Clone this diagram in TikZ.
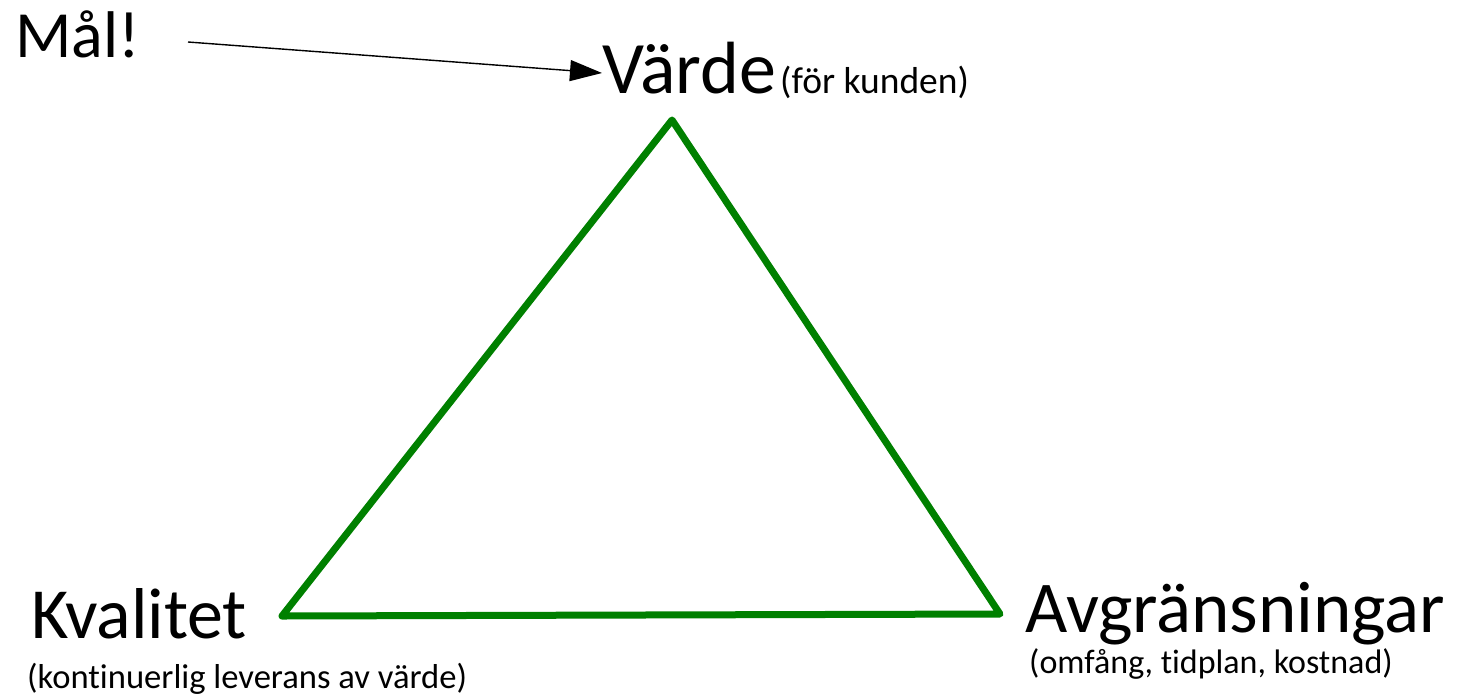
\documentclass[tikz,border=0pt]{standalone}
\usepackage{fontspec}
\setmainfont{Carlito}[Ligatures=NoCommon]
\usetikzlibrary{arrows.meta}
\definecolor{tgreen}{RGB}{0,128,0}
\tikzset{
  big/.style={inner sep=0pt, anchor=base west, font=\fontsize{72}{80}\selectfont},
  small/.style={inner sep=0pt, anchor=base west, font=\fontsize{34}{40}\selectfont},
  edge/.style={draw=tgreen, line width=7pt, line join=round, line cap=round},
  pointer/.style={draw=black, line width=1.4pt, -{Triangle[length=32pt,width=21pt]}}
}
\begin{document}
\begin{tikzpicture}[x=1pt,y=-1pt]
\useasboundingbox (0,0) rectangle (1458,697);
\node[big, font=\fontsize{66}{70}\selectfont] (mal) at (15,57) {Mål!};
\node[big, font=\fontsize{74}{80}\selectfont] (varde) at (602,93) {Värde};
\node[small, font=\fontsize{37.5}{40}\selectfont] (kunden) at (780,93) {(för kunden)};
\node[big] (kval) at (31,638) {Kvalitet};
\node[small, font=\fontsize{34.6}{40}\selectfont] (kont) at (27,688) {(kontinuerlig leverans av värde)};
\node[big, font=\fontsize{73}{80}\selectfont] (avg) at (1025,632) {Avgränsningar};
\node[small] (omf) at (1029,673) {(omfång, tidplan, kostnad)};
\coordinate (top) at (672,120);
\coordinate (left) at (282,616);
\coordinate (right) at (1000,614);
\coordinate (start) at (188,42);
\draw[edge] (top) -- (right) -- (left) -- cycle;
\draw[pointer] (start) -- (varde.west |- 0,73);
\end{tikzpicture}
\end{document}
